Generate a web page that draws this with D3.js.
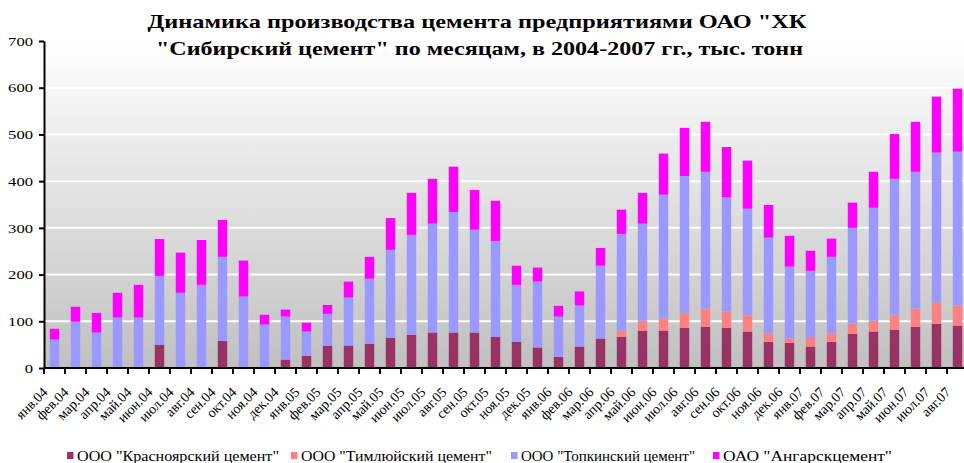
<!DOCTYPE html>
<html>
<head>
<meta charset="utf-8">
<script src="https://cdn.jsdelivr.net/npm/d3@7"></script>
<style>
  body { margin: 0; background: #fff; }
  svg { display: block; }
  text { font-family: "Liberation Serif"; }
</style>
</head>
<body>
<script>
// months, янв.04 .. авг.07
const months = [
  'янв.04','фев.04','мар.04','апр.04','май.04','июн.04','июл.04','авг.04','сен.04','окт.04','ноя.04','дек.04',
  'янв.05','фев.05','мар.05','апр.05','май.05','июн.05','июл.05','авг.05','сен.05','окт.05','ноя.05','дек.05',
  'янв.06','фев.06','мар.06','апр.06','май.06','июн.06','июл.06','авг.06','сен.06','окт.06','ноя.06','дек.06',
  'янв.07','фев.07','мар.07','апр.07','май.07','июн.07','июл.07','авг.07'
];

const krasnoyarsk = [0,0,0,0,0,50,0,0,58,0,0,18, 26,48,48,52,65,71,76,76,76,67,56,44, 24,46,63,67,80,80,86,88,86,78,56,54, 46,56,73,78,82,88,95,91];
const timlyui     = [0,0,0,0,0,0,0,0,0,0,0,0, 0,0,0,0,0,0,0,0,0,0,0,0, 0,0,0,13,21,26,32,39,35,35,18,9, 20,18,22,23,31,39,45,43];
const topki       = [61,99,76,108,108,147,161,178,180,153,93,92, 52,68,103,139,188,214,233,258,220,205,122,141, 86,88,156,207,208,265,293,293,245,228,205,154, 142,164,205,242,292,293,321,329];
const angarsk     = [23,32,42,53,70,79,86,96,79,77,21,15, 19,19,34,47,68,90,96,97,85,86,41,30, 23,30,38,52,66,88,103,107,107,103,70,66, 43,39,54,77,96,107,120,135];

const seriesNames = ['ООО "Красноярский цемент"', 'ООО "Тимлюйский цемент"', 'ООО "Топкинский цемент"', 'ОАО "Ангарскцемент"'];
const colors = ['#993366', '#ff8080', '#9999ff', '#ff00ff'];
const yTicks = [0,100,200,300,400,500,600,700];

const W = 964, H = 463;
const margin = {left: 44, right: 968, top: 41, bottom: 368};
const FONT = 'Liberation Serif';

const rows = months.map((m, i) => ({
  month: m,
  k: krasnoyarsk[i], t: timlyui[i], tp: topki[i], a: angarsk[i]
}));
const stack = d3.stack().keys(['k','t','tp','a'])(rows);

const svg = d3.select('body').append('svg').attr('width', W).attr('height', H)
  .attr('font-family', FONT);

const x = d3.scaleBand().domain(months).range([margin.left, margin.right]).paddingInner(0.55).paddingOuter(0.275);
const y = d3.scaleLinear().domain([0, 700]).range([margin.bottom, margin.top]);

// plot background gradient
const grad = svg.append('defs').append('linearGradient')
  .attr('id', 'bg').attr('x1', 0).attr('y1', 0).attr('x2', 0).attr('y2', 1);
grad.append('stop').attr('offset', '0%').attr('stop-color', '#ffffff');
grad.append('stop').attr('offset', '100%').attr('stop-color', '#c0c0c0');

svg.append('rect')
  .attr('x', margin.left).attr('y', margin.top)
  .attr('width', margin.right - margin.left).attr('height', margin.bottom - margin.top)
  .attr('fill', 'url(#bg)');

// gridlines
svg.append('g').selectAll('line')
  .data(yTicks.filter(d => d > 0))
  .join('line')
  .attr('x1', margin.left).attr('x2', margin.right)
  .attr('y1', d => y(d)).attr('y2', d => y(d))
  .attr('stroke', '#fff').attr('stroke-width', 2);

// bars
svg.append('g').selectAll('g')
  .data(stack)
  .join('g')
  .attr('fill', (d, i) => colors[i])
  .selectAll('rect')
  .data(d => d)
  .join('rect')
  .attr('x', d => x(d.data.month))
  .attr('width', x.bandwidth())
  .attr('y', d => y(d[1]))
  .attr('height', d => y(d[0]) - y(d[1]));

// y axis (labels are wide in the source, so stretch them a bit)
const yAxis = svg.append('g')
  .attr('transform', `translate(${margin.left},0)`)
  .call(d3.axisLeft(y).tickValues(yTicks).tickSize(5).tickSizeOuter(0).tickPadding(6));
yAxis.attr('font-family', FONT).attr('font-size', 13);
yAxis.select('.domain').attr('stroke', '#000').attr('stroke-width', 2);
yAxis.selectAll('.tick line').attr('stroke', '#000').attr('stroke-width', 2);
yAxis.selectAll('text').attr('fill', '#000')
  .attr('textLength', d => String(d).length * 8.3).attr('lengthAdjust', 'spacingAndGlyphs');

// x axis: line + ticks between categories
const step = x.step();
const xg = svg.append('g').attr('font-family', FONT);
xg.append('line')
  .attr('x1', margin.left).attr('x2', margin.right)
  .attr('y1', margin.bottom).attr('y2', margin.bottom)
  .attr('stroke', '#000').attr('stroke-width', 2);
xg.selectAll('line.tk')
  .data(d3.range(months.length + 1))
  .join('line')
  .attr('class', 'tk')
  .attr('x1', i => margin.left + i * step).attr('x2', i => margin.left + i * step)
  .attr('y1', margin.bottom).attr('y2', margin.bottom + 6)
  .attr('stroke', '#000').attr('stroke-width', 2);
xg.selectAll('text')
  .data(months)
  .join('text')
  .attr('transform', d => `translate(${x(d) + x.bandwidth() / 2 - 6},${margin.bottom + 25}) rotate(-45)`)
  .attr('text-anchor', 'end')
  .attr('font-size', 14)
  .text(d => d);

// title
const title = svg.append('g').attr('font-size', 19).attr('font-weight', 'bold').attr('text-anchor', 'middle');
title.append('text').attr('x', 477).attr('y', 28)
  .attr('textLength', 659).attr('lengthAdjust', 'spacingAndGlyphs')
  .text('Динамика производства цемента предприятиями ОАО "ХК');
title.append('text').attr('x', 479.5).attr('y', 55)
  .attr('textLength', 647).attr('lengthAdjust', 'spacingAndGlyphs')
  .text('"Сибирский цемент" по месяцам, в 2004-2007 гг., тыс. тонн');

// legend
const legendX = [67, 291, 511, 713];
const legendW = [202, 191, 174, 169];
const leg = svg.append('g').attr('transform', 'translate(0,456)');
seriesNames.forEach((name, i) => {
  const g = leg.append('g').attr('transform', `translate(${legendX[i]},0)`);
  g.append('rect').attr('x', 0).attr('y', -4).attr('width', 6.5).attr('height', 7).attr('fill', colors[i]);
  g.append('text').attr('x', 10).attr('dy', '0.33em')
    .attr('font-size', 14)
    .attr('textLength', legendW[i]).attr('lengthAdjust', 'spacingAndGlyphs')
    .text(name);
});
</script>
</body>
</html>
